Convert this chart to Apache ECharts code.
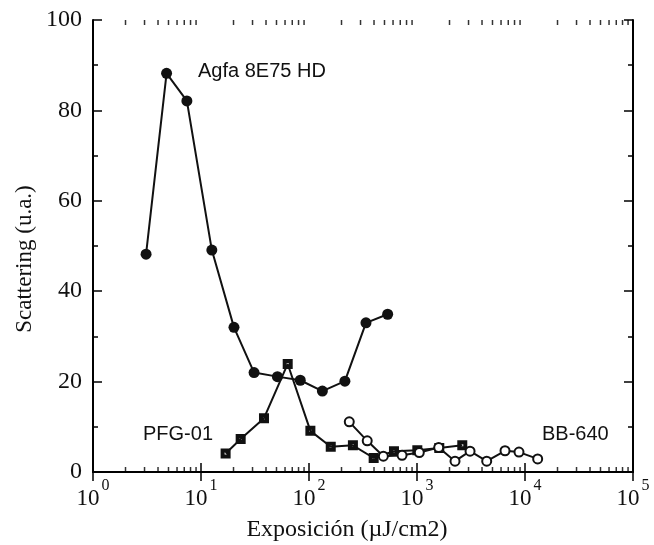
<!DOCTYPE html>
<html><head><meta charset="utf-8">
<script src="https://cdn.jsdelivr.net/npm/echarts@6/dist/echarts.min.js"></script>
<style>html,body{margin:0;padding:0;background:#fff}#c{width:654px;height:545px}</style>
</head><body><div id="c"></div>
<script>
// Agfa 8E75 HD (filled circles)
const agfaX = [3.1, 4.8, 7.4, 12.6, 20.2, 31, 51, 83, 133, 215, 337, 535];
const agfaY = [48.2, 88.2, 82.1, 49.1, 32.0, 22.0, 21.1, 20.3, 17.9, 20.1, 33.0, 34.9];
// PFG-01 (squares)
const pfgX = [16.9, 23.3, 38.3, 63.5, 103, 159, 255, 397, 612, 1007, 1608, 2626];
const pfgY = [4.1, 7.3, 11.9, 23.9, 9.1, 5.6, 5.9, 3.1, 4.6, 4.8, 5.3, 5.9];
// BB-640 (open circles)
const bbX = [236, 346, 488, 727, 1050, 1588, 2249, 3099, 4420, 6531, 8796, 13100];
const bbY = [11.1, 6.9, 3.5, 3.7, 4.3, 5.4, 2.4, 4.6, 2.4, 4.7, 4.4, 2.9];
// tick values
const yTicks = [0, 20, 40, 60, 80, 100];
const xMinorTicks = [];
[1, 10, 100, 1000, 10000].forEach(d => { for (let k = 2; k <= 9; k++) xMinorTicks.push(d * k); });

const zip = (xs, ys) => xs.map((x, i) => [x, ys[i]]);
const serif = 'Liberation Serif';

const chart = echarts.init(document.getElementById('c'), null, {renderer: 'canvas'});
const axisLine = {show: true, lineStyle: {color: '#000', width: 2}};
const squarePath = 'path://M0,0H10V10H0Z M4,4V6H6V4Z';
const majorTick = {show: true, inside: true, length: 9, lineStyle: {color: '#000', width: 1.5}};

chart.setOption({
  animation: false,
  backgroundColor: '#fff',
  grid: {left: 93, right: 21, top: 20, bottom: 73, containLabel: false},
  xAxis: [{
    type: 'log', logBase: 10, min: 1, max: 100000,
    axisLine: axisLine,
    axisTick: majorTick,
    splitLine: {show: false},
    axisLabel: {
      margin: 6,
      formatter: v => '{b|10}{s|' + Math.round(Math.log10(v)) + '}',
      rich: {
        b: {fontFamily: serif, fontSize: 23, color: '#111', padding: [9, 0, 0, 0]},
        s: {fontFamily: serif, fontSize: 16, color: '#111', verticalAlign: 'top', padding: [0, 0, 0, 2]}
      }
    }
  }, {
    type: 'log', logBase: 10, min: 1, max: 100000, position: 'top',
    axisLine: axisLine,
    axisTick: majorTick,
    axisLabel: {show: false}, splitLine: {show: false}
  }],
  yAxis: [{
    type: 'value', min: 0, max: 100, interval: 20,
    axisLine: axisLine,
    axisTick: majorTick,
    minorTick: {show: true, splitNumber: 2, length: 5, lineStyle: {color: '#000', width: 1.5}},
    splitLine: {show: false},
    axisLabel: {margin: 11, fontFamily: serif, fontSize: 24, color: '#111',
      formatter: v => yTicks.includes(v) ? String(v) : ''}
  }, {
    type: 'value', min: 0, max: 100, interval: 20, position: 'right',
    axisLine: axisLine,
    axisTick: majorTick,
    minorTick: {show: true, splitNumber: 2, length: 5, lineStyle: {color: '#000', width: 1.5}},
    axisLabel: {show: false}, splitLine: {show: false}
  }],
  series: [
    {
      name: 'minor ticks bottom', type: 'scatter', silent: true, z: 1,
      data: xMinorTicks.map(v => [v, 0]),
      symbol: 'rect', symbolSize: [1.5, 5], symbolOffset: [0, -2.5],
      itemStyle: {color: '#000'}
    },
    {
      name: 'minor ticks top', type: 'scatter', silent: true, z: 1,
      data: xMinorTicks.map(v => [v, 100]),
      symbol: 'rect', symbolSize: [1.5, 5], symbolOffset: [0, 2.5],
      itemStyle: {color: '#000'}
    },
    {
      name: 'Agfa 8E75 HD', type: 'line', data: zip(agfaX, agfaY),
      symbol: 'circle', symbolSize: 11, showAllSymbol: true,
      lineStyle: {color: '#111', width: 2},
      itemStyle: {color: '#111', borderWidth: 0}, z: 3
    },
    {
      name: 'PFG-01', type: 'line', data: zip(pfgX, pfgY),
      symbol: squarePath, symbolSize: 10, showAllSymbol: true,
      lineStyle: {color: '#111', width: 2},
      itemStyle: {color: '#111', borderWidth: 0}, z: 4
    },
    {
      name: 'BB-640', type: 'line', data: zip(bbX, bbY),
      symbol: 'circle', symbolSize: 9, showAllSymbol: true,
      lineStyle: {color: '#111', width: 2},
      itemStyle: {color: '#fff', borderColor: '#111', borderWidth: 2}, z: 5
    }
  ],
  graphic: [
    {type: 'text', x: 198, y: 71, style: {text: 'Agfa 8E75 HD', font: '20px "Liberation Sans"', fill: '#111', textVerticalAlign: 'middle'}},
    {type: 'text', x: 143, y: 434, style: {text: 'PFG-01', font: '20px "Liberation Sans"', fill: '#111', textVerticalAlign: 'middle'}},
    {type: 'text', x: 542, y: 434, style: {text: 'BB-640', font: '20px "Liberation Sans"', fill: '#111', textVerticalAlign: 'middle'}},
    {type: 'text', x: 347, y: 530, style: {text: 'Exposición (µJ/cm2)', font: '24px "Liberation Serif"', fill: '#111', textAlign: 'center', textVerticalAlign: 'middle'}},
    {type: 'text', x: 25, y: 259, rotation: Math.PI / 2, style: {text: 'Scattering (u.a.)', font: '23px "Liberation Serif"', fill: '#111', textAlign: 'center', textVerticalAlign: 'middle'}}
  ]
});
</script></body></html>
